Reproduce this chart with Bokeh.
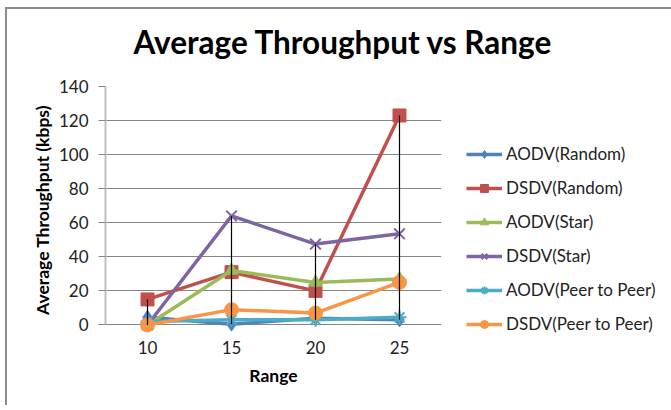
from bokeh.plotting import figure
from bokeh.models import Range1d, FixedTicker, Legend, LegendItem, Title
from bokeh.embed import file_html
from bokeh.resources import INLINE
import numpy as np

ranges = [10, 15, 20, 25]
aodv_random = [4.5, 0.5, 4, 3]
dsdv_random = [15, 31, 20, 123]
aodv_star = [0, 32, 25, 27]
dsdv_star = [0, 64, 47.5, 53.5]
aodv_p2p = [2, 3, 3, 4.5]
dsdv_p2p = [0, 9, 7, 25]

series = [
    ("AODV(Random)", aodv_random, "#4F81BD", "diamond", 14),
    ("DSDV(Random)", dsdv_random, "#C0504D", "square", 13),
    ("AODV(Star)", aodv_star, "#9BBB59", "triangle", 13),
    ("DSDV(Star)", dsdv_star, "#8064A2", "x", 15),
    ("AODV(Peer to Peer)", aodv_p2p, "#4BACC6", "asterisk", 14),
    ("DSDV(Peer to Peer)", dsdv_p2p, "#F79646", "circle", 14),
]

FONT = "Lato"

p = figure(frame_width=336, frame_height=247, output_backend="svg", toolbar_location=None,
           x_range=Range1d(7.5, 27.5), y_range=Range1d(-5, 140),
           min_border_left=98, min_border_top=60, min_border_right=222,
           min_border_bottom=72,
           styles={"border-left": "2px solid #8c8c8c", "border-top": "2px solid #8c8c8c",
                   "margin-left": "5px", "margin-top": "7px"})
p.title_location = None

spacer = Title(text=" ", text_font_size="1px", standoff=12)
p.add_layout(spacer, "above")
main_title = Title(text="Average Throughput vs Range", text_font=FONT,
                   text_font_size="31.5px", text_font_style="bold",
                   text_color="black", align="left", offset=28, standoff=22)
p.add_layout(main_title, "above")

p.outline_line_color = None
p.background_fill_color = "white"
p.border_fill_color = "white"

p.xgrid.grid_line_color = None
p.ygrid.grid_line_color = "#868686"
p.ygrid.grid_line_width = 1
p.ygrid.ticker = FixedTicker(ticks=list(range(0, 141, 20)))

p.yaxis.ticker = FixedTicker(ticks=list(range(0, 141, 20)))
p.yaxis.bounds = (0, 140)
p.yaxis.axis_line_color = "#BFBFBF"
p.yaxis.axis_line_width = 2
p.yaxis.major_tick_line_color = "#868686"
p.yaxis.major_tick_out = 7
p.yaxis.major_tick_in = 0
p.yaxis.minor_tick_line_color = None
p.yaxis.major_label_standoff = 10
p.yaxis.major_label_text_font = FONT
p.yaxis.major_label_text_font_size = "17px"
p.yaxis.major_label_text_color = "#222222"
p.yaxis.axis_label = "Average Throughput (kbps)"
p.yaxis.axis_label_text_font = FONT
p.yaxis.axis_label_text_font_size = "17.5px"
p.yaxis.axis_label_text_font_style = "bold"
p.yaxis.axis_label_text_color = "black"
p.yaxis.axis_label_standoff = 3

p.xaxis.ticker = FixedTicker(ticks=ranges)
p.xaxis.axis_line_color = None
p.xaxis.major_tick_line_color = None
p.xaxis.minor_tick_line_color = None
p.xaxis.major_tick_out = 0
p.xaxis.major_tick_in = 0
p.xaxis.major_label_standoff = 7
p.xaxis.major_label_text_font = FONT
p.xaxis.major_label_text_font_size = "17px"
p.xaxis.major_label_text_color = "#222222"
p.xaxis.axis_label = "Range"
p.xaxis.axis_label_text_font = FONT
p.xaxis.axis_label_text_font_size = "17.5px"
p.xaxis.axis_label_text_font_style = "bold"
p.xaxis.axis_label_text_color = "black"
p.xaxis.axis_label_standoff = 8

items = []
for name, vals, color, marker, size in series:
    lr = p.line(ranges, vals, line_color=color, line_width=3.5)
    if marker in ("x", "asterisk"):
        sr = p.scatter(ranges, vals, marker=marker, size=size, line_color=color,
                       line_width=2)
    else:
        sr = p.scatter(ranges, vals, marker=marker, size=size, fill_color=color,
                       line_color=color, line_width=1)
    items.append(LegendItem(label=name, renderers=[lr, sr]))

all_vals = np.array([s[1] for s in series])
p.segment(x0=ranges, y0=all_vals.max(axis=0).tolist(), x1=ranges,
          y1=all_vals.min(axis=0).tolist(), line_color="black", line_width=1.2)

legend = Legend(items=items, location=(25, -1))
legend.border_line_color = None
legend.background_fill_alpha = 0
legend.padding = 0
legend.margin = 0
legend.spacing = 13
legend.glyph_width = 36
legend.glyph_height = 20
legend.label_height = 20
legend.label_standoff = 4
legend.label_text_font = FONT
legend.label_text_font_size = "17px"
legend.label_text_color = "#222222"
p.add_layout(legend, "right")

open("out.html", "w").write(file_html(p, INLINE))
